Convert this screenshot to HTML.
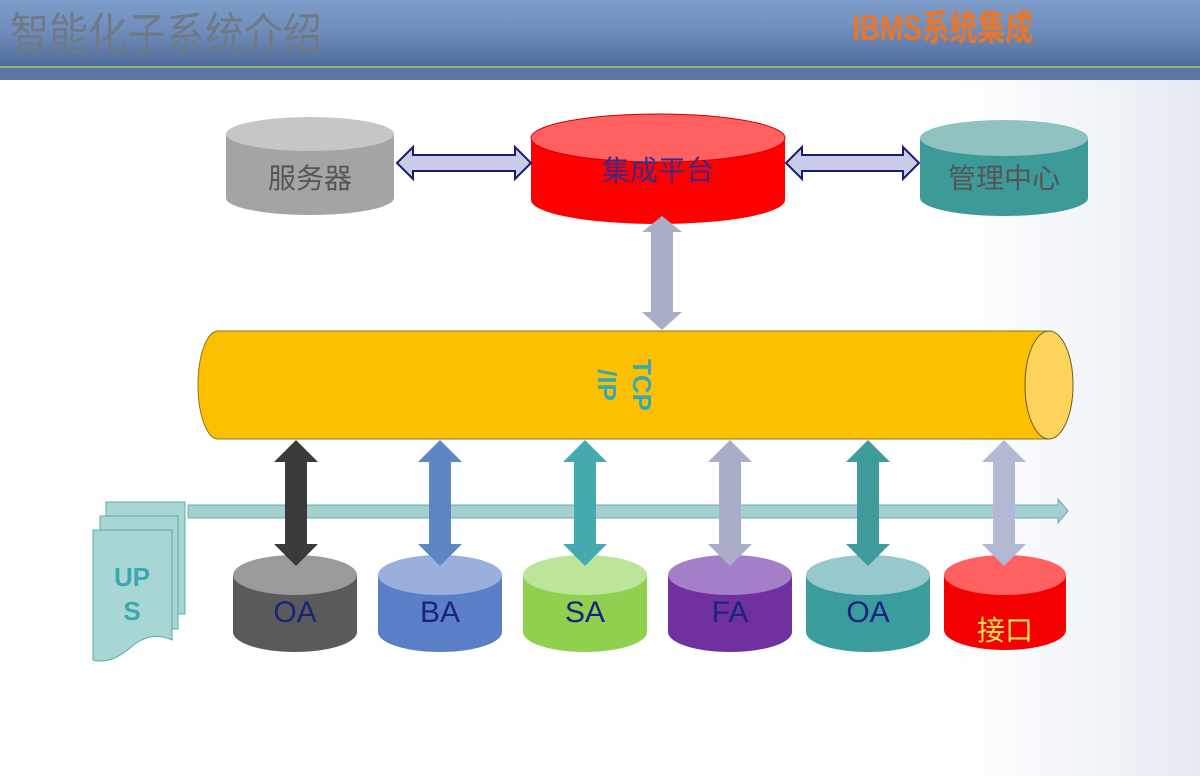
<!DOCTYPE html>
<html><head><meta charset="utf-8"><style>
html,body{margin:0;padding:0;width:1200px;height:776px;overflow:hidden;background:#fff}
svg{display:block}
text{font-family:"Liberation Sans","Noto Sans CJK SC",sans-serif}
</style></head><body>
<svg width="1200" height="776" viewBox="0 0 1200 776" xmlns="http://www.w3.org/2000/svg">
<defs>
<linearGradient id="hdr" x1="0" y1="0" x2="0" y2="1">
<stop offset="0" stop-color="#7f9dca"/><stop offset="0.5" stop-color="#6e8cbb"/><stop offset="1" stop-color="#4e6a9a"/></linearGradient>
<linearGradient id="bg" x1="0" y1="0" x2="1" y2="0">
<stop offset="0.8" stop-color="#fff"/><stop offset="1" stop-color="#e6ebf3"/></linearGradient>
</defs>
<rect x="0" y="0" width="1200" height="776" fill="url(#bg)"/>
<rect x="0" y="0" width="1200" height="66" fill="url(#hdr)"/>
<rect x="0" y="66" width="1200" height="2" fill="#8fb870"/>
<rect x="0" y="68" width="1200" height="12" fill="#5a76a6"/>
<text transform="translate(10,50) scale(1,1.15)" font-size="39" fill="#707a86">智能化子系统介绍</text>
<text transform="translate(852,40) scale(0.9,1.15)" font-size="31" font-weight="bold" fill="#e8762a">IBMS系统集成</text>

<g>
<path d="M226 134 V198 A84 17 0 0 0 394 198 V134 Z" fill="#a4a4a4"/>
<ellipse cx="310" cy="134" rx="84" ry="17" fill="#c6c6c6"/>
<text x="310" y="188" font-size="28" text-anchor="middle" fill="#555">服务器</text>

<path d="M531 138 V200 A127 24 0 0 0 785 200 V138 Z" fill="#fe0000"/>
<ellipse cx="658" cy="138" rx="127" ry="24" fill="#ff6060" stroke="#c00" stroke-width="1"/>
<text x="658" y="180" font-size="28" text-anchor="middle" fill="#3a2a8a">集成平台</text>

<path d="M920 138 V198 A84 18 0 0 0 1088 198 V138 Z" fill="#3c9a98"/>
<ellipse cx="1004" cy="138" rx="84" ry="18" fill="#8fc2c0"/>
<text x="1004" y="188" font-size="28" text-anchor="middle" fill="#555">管理中心</text>
</g>

<path d="M397 163 L413 147 V155 H515 V147 L531 163 L515 179 V171 H413 V179 Z" fill="#c8cce8" stroke="#1a1a70" stroke-width="2"/>
<path d="M786 163 L802 147 V155 H903 V147 L919 163 L903 179 V171 H802 V179 Z" fill="#c8cce8" stroke="#1a1a70" stroke-width="2"/>

<path d="M662 216 L682 232 H673 V312 H682 L662 330 L642 312 H651 V232 H642 Z" fill="#a9adc8"/>

<path d="M218 331 H1049 V439 H218 A20 54 0 0 1 198 385 A20 54 0 0 1 218 331 Z" fill="#fcc000" stroke="#8a7a20" stroke-width="1"/>
<ellipse cx="1049" cy="385" rx="24" ry="54" fill="#fdd35c" stroke="#6a6020" stroke-width="1"/>
<text transform="translate(633,385) rotate(90)" font-size="26" font-weight="bold" text-anchor="middle" fill="#3aa8b0">TCP</text>
<text transform="translate(598,385) rotate(90)" font-size="26" font-weight="bold" text-anchor="middle" fill="#3aa8b0">/IP</text>

<path d="M188 505 H1058 V499 L1068 511 L1058 523 V518 H188 Z" fill="#a5d0d0" stroke="#6aabab" stroke-width="1"/>

<rect x="106" y="502" width="79" height="112" fill="#a7d6d4" stroke="#5fa8a8"/>
<rect x="100" y="516" width="78" height="113" fill="#a7d6d4" stroke="#5fa8a8"/>
<path d="M93 530 H172 V640 Q150 630 130 648 Q110 665 93 660 Z" fill="#a7d6d4" stroke="#5fa8a8"/>
<text x="132" y="586" font-size="26" font-weight="bold" text-anchor="middle" fill="#3aa8b0">UP</text>
<text x="132" y="620" font-size="26" font-weight="bold" text-anchor="middle" fill="#3aa8b0">S</text>

<g font-size="30" text-anchor="middle">
<path d="M233 575 V632 A62 20 0 0 0 357 632 V575 Z" fill="#5a5a5a"/>
<ellipse cx="295" cy="575" rx="62" ry="20" fill="#9a9a9a"/>
<text x="295" y="622" fill="#1a237e">OA</text>

<path d="M378 575 V632 A62 20 0 0 0 502 632 V575 Z" fill="#5b7fc7"/>
<ellipse cx="440" cy="575" rx="62" ry="20" fill="#9ab0dc"/>
<text x="440" y="622" fill="#1a237e">BA</text>

<path d="M523 575 V632 A62 20 0 0 0 647 632 V575 Z" fill="#8fd04e"/>
<ellipse cx="585" cy="575" rx="62" ry="20" fill="#bce49a"/>
<text x="585" y="622" fill="#1a237e">SA</text>

<path d="M668 575 V632 A62 20 0 0 0 792 632 V575 Z" fill="#7030a0"/>
<ellipse cx="730" cy="575" rx="62" ry="20" fill="#a57ec8"/>
<text x="730" y="622" fill="#1a237e">FA</text>

<path d="M806 575 V632 A62 20 0 0 0 930 632 V575 Z" fill="#3a9c9c"/>
<ellipse cx="868" cy="575" rx="62" ry="20" fill="#96c8cc"/>
<text x="868" y="622" fill="#1a237e">OA</text>

<path d="M944 575 V630 A61 20 0 0 0 1066 630 V575 Z" fill="#f40000"/>
<ellipse cx="1005" cy="575" rx="61" ry="20" fill="#ff6060"/>
<text x="1005" y="640" font-size="28" fill="#ffe04a">接口</text>
</g>

<g>
<path d="M296 440 L318 462 H307 V544 H318 L296 566 L274 544 H285 V462 H274 Z" fill="#3a3a3a"/>
<path d="M440 440 L462 462 H451 V544 H462 L440 566 L418 544 H429 V462 H418 Z" fill="#5f86c4"/>
<path d="M585 440 L607 462 H596 V544 H607 L585 566 L563 544 H574 V462 H563 Z" fill="#45aab0"/>
<path d="M730 440 L752 462 H741 V544 H752 L730 566 L708 544 H719 V462 H708 Z" fill="#a9adc8"/>
<path d="M868 440 L890 462 H879 V544 H890 L868 566 L846 544 H857 V462 H846 Z" fill="#3f9a9c"/>
<path d="M1004 440 L1026 462 H1015 V544 H1026 L1004 566 L982 544 H993 V462 H982 Z" fill="#b3b8d4"/>
</g>
</svg>
</body></html>
